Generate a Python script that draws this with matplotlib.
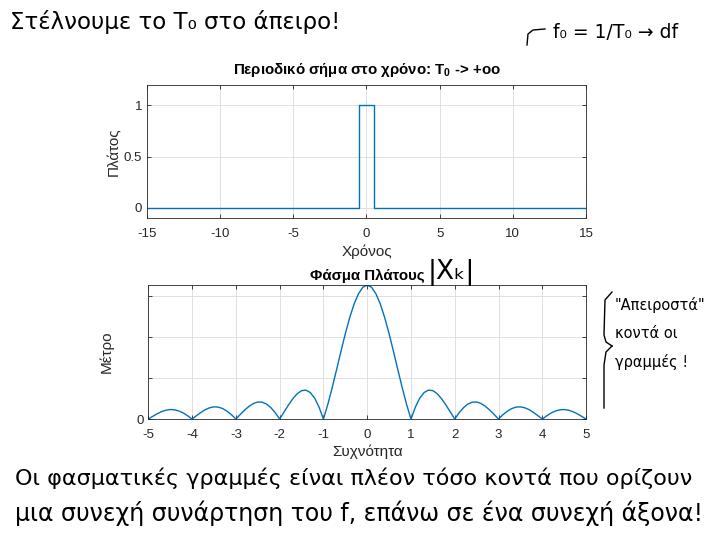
import matplotlib
matplotlib.use("Agg")
import matplotlib.pyplot as plt
from matplotlib.lines import Line2D

# Δεδομένα
t = [-15, -0.5, -0.5, 0.5, 0.5, 15]
x_t = [0, 0, 1, 1, 0, 0]

f_pos = [0.0, 0.1, 0.2, 0.3, 0.4, 0.5, 0.6, 0.7, 0.8, 0.9,
         1.0, 1.1, 1.2, 1.3, 1.4, 1.5, 1.6, 1.7, 1.8, 1.9,
         2.0, 2.1, 2.2, 2.3, 2.4, 2.5, 2.6, 2.7, 2.8, 2.9,
         3.0, 3.1, 3.2, 3.3, 3.4, 3.5, 3.6, 3.7, 3.8, 3.9,
         4.0, 4.1, 4.2, 4.3, 4.4, 4.5, 4.6, 4.7, 4.8, 4.9, 5.0]
mag_pos = [1.000, 0.984, 0.935, 0.858, 0.757, 0.637, 0.505, 0.368, 0.234, 0.109,
           0.000, 0.089, 0.156, 0.198, 0.216, 0.212, 0.189, 0.151, 0.104, 0.052,
           0.000, 0.047, 0.085, 0.112, 0.126, 0.127, 0.116, 0.095, 0.067, 0.034,
           0.000, 0.032, 0.058, 0.078, 0.089, 0.091, 0.084, 0.070, 0.049, 0.025,
           0.000, 0.024, 0.045, 0.060, 0.069, 0.071, 0.066, 0.055, 0.039, 0.020, 0.000]
# το φάσμα είναι συμμετρικό
f = [-v for v in f_pos[:0:-1]] + f_pos
mag = mag_pos[:0:-1] + mag_pos

top_xticks = [-15, -10, -5, 0, 5, 10, 15]
top_yticks = [0, 0.5, 1]
bot_xticks = [-5, -4, -3, -2, -1, 0, 1, 2, 3, 4, 5]
bot_yticks = [0, 0.306, 0.612, 0.918]
bot_yticklabels = ["0", "", "", ""]

plt.rcParams["font.family"] = ["Liberation Sans", "DejaVu Sans"]
plt.rcParams["mathtext.fontset"] = "custom"
plt.rcParams["mathtext.rm"] = "Liberation Sans"
plt.rcParams["mathtext.bf"] = "Liberation Sans:bold"
plt.rcParams["axes.unicode_minus"] = False

blue = "#0072BD"
axcol = "#262626"
hand = dict(family=["DejaVu Sans"], color="black")

fig = plt.figure(figsize=(7.2, 5.4), dpi=100)


def matlab_axes(ax):
    for s in ax.spines.values():
        s.set_color(axcol)
        s.set_linewidth(0.6)
    ax.tick_params(direction="in", length=3, width=0.6, colors=axcol,
                   labelsize=9.5, top=True, right=True, labelcolor="#262626")
    ax.tick_params(axis="x", pad=7)
    ax.grid(True, color="#dcdcdc", linewidth=0.6)
    ax.set_axisbelow(True)


ax1 = fig.add_axes([0.204, 0.596, 0.610, 0.247])
ax1.plot(t, x_t, color=blue, linewidth=1)
ax1.set_xlim(-15, 15)
ax1.set_ylim(-0.1, 1.2)
ax1.set_xticks(top_xticks)
ax1.set_yticks(top_yticks)
ax1.set_yticklabels(["0", "0.5", "1"])
matlab_axes(ax1)
ax1.set_title(r"Περιοδικό σήμα στο χρόνο: T$_\mathbf{0}$ -> +oo", fontsize=10.8,
              fontweight="bold", pad=8)
ax1.set_xlabel("Χρόνος", fontsize=11, color="#262626", labelpad=3)
ax1.set_ylabel("Πλάτος", fontsize=11, color="#262626", labelpad=2)

ax2 = fig.add_axes([0.206, 0.224, 0.608, 0.248])
ax2.plot(f, mag, color=blue, linewidth=1)
ax2.set_xlim(-5, 5)
ax2.set_ylim(0, 1)
ax2.set_xticks(bot_xticks)
ax2.set_yticks(bot_yticks)
ax2.set_yticklabels(bot_yticklabels)
matlab_axes(ax2)
ax2.set_title("Φάσμα Πλάτους", fontsize=10.8, fontweight="bold", pad=4)
ax2.set_xlabel("Συχνότητα", fontsize=11, color="#262626", labelpad=3)
ax2.set_ylabel("Μέτρο", fontsize=11, color="#262626", labelpad=16)

# χειρόγραφες σημειώσεις
fig.text(10 / 720, 1 - 22 / 540, "Στέλνουμε το T₀ στο άπειρο!", fontsize=16.5,
         va="center", **hand)
fig.text(553 / 720, 1 - 32 / 540, "f₀ = 1/T₀ → df", fontsize=13.5,
         va="center", **hand)
fig.add_artist(Line2D([527 / 720, 528 / 720, 533 / 720, 545 / 720],
                      [1 - 45 / 540, 1 - 34 / 540, 1 - 30 / 540, 1 - 29 / 540],
                      color="black", linewidth=1))
fig.text(428 / 720, 1 - 272 / 540, "|Xₖ|", fontsize=19, va="center", **hand)

# άγκιστρο
fig.add_artist(Line2D([612 / 720, 605 / 720, 604 / 720, 606 / 720, 612 / 720],
                      [1 - 292 / 540, 1 - 300 / 540, 1 - 335 / 540, 1 - 342 / 540, 1 - 346 / 540],
                      color="black", linewidth=1))
fig.add_artist(Line2D([612 / 720, 606 / 720, 604 / 720, 604 / 720],
                      [1 - 346 / 540, 1 - 352 / 540, 1 - 365 / 540, 1 - 408 / 540],
                      color="black", linewidth=1))
fig.text(615 / 720, 1 - 305 / 540, "\"Απειροστά\"", fontsize=10.5, va="center", **hand)
fig.text(615 / 720, 1 - 333 / 540, "κοντά οι", fontsize=10.5, va="center", **hand)
fig.text(615 / 720, 1 - 362 / 540, "γραμμές !", fontsize=10.5, va="center", **hand)

fig.text(15 / 720, 1 - 478 / 540,
         "Οι φασματικές γραμμές είναι πλέον τόσο κοντά που ορίζουν",
         fontsize=16, va="center", **hand)
fig.text(15 / 720, 1 - 513 / 540,
         "μια συνεχή συνάρτηση του f, επάνω σε ένα συνεχή άξονα!",
         fontsize=17, va="center", **hand)

fig.savefig("out.png", dpi=100)
